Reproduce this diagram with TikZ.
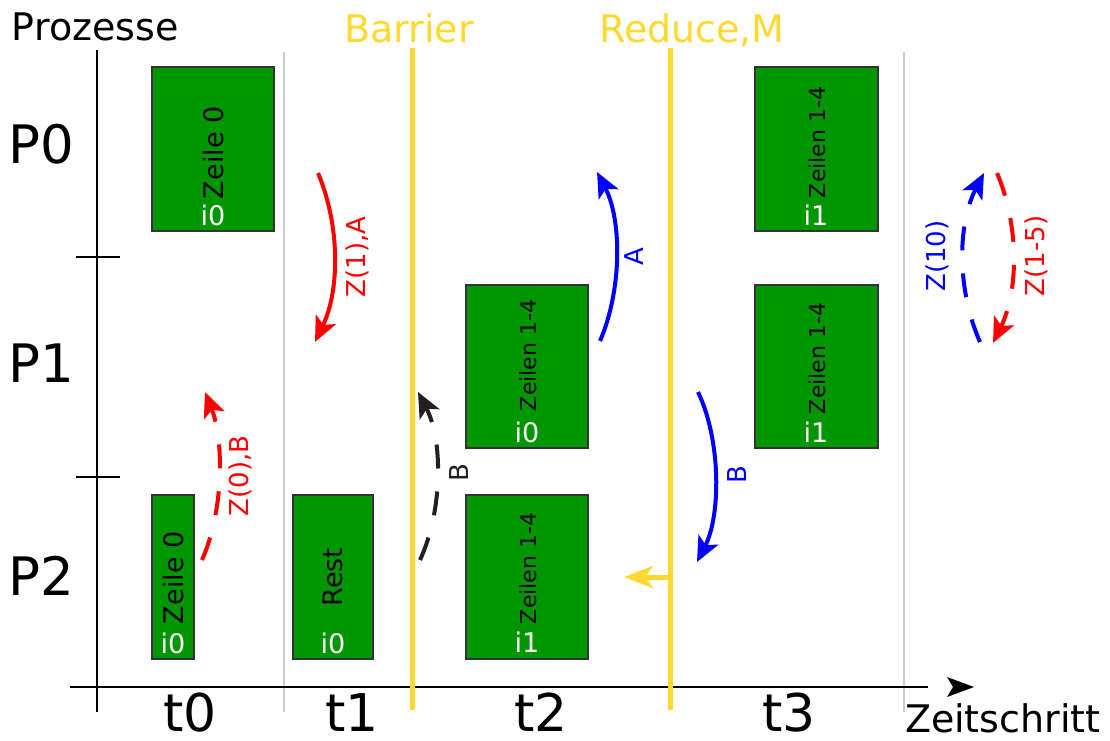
\documentclass[tikz,border=0pt]{standalone}
\usepackage{fontspec}
\setmainfont{DejaVu Sans}
\usetikzlibrary{arrows.meta}
\definecolor{boxgreen}{RGB}{0,150,0}
\definecolor{boxline}{RGB}{51,51,51}
\definecolor{syncyellow}{RGB}{255,217,47}
\definecolor{sepgray}{RGB}{204,204,204}
\definecolor{darkarrow}{RGB}{35,31,32}
\newcommand{\fsz}[1]{\fontsize{#1}{#1}\selectfont}

\begin{document}
\begin{tikzpicture}[x=1pt,y=-1pt,
  every node/.style={inner sep=0pt,outer sep=0pt},
  workbox/.style={draw=boxline,fill=boxgreen,line width=2pt,anchor=north west},
  rowlabel/.style={font=\fsz{27},rotate=90,anchor=west},
  smallrowlabel/.style={font=\fsz{22},rotate=90,anchor=west},
  iterlabel/.style={font=\fsz{27},text=white,anchor=base},
  arclabel/.style={font=\fsz{26},rotate=90},
  bigtip/.style={-{Stealth[length=25pt,width=22pt,inset=6pt]}},
  msgsolid/.style={line width=4pt,bigtip},
  msgdashed/.style={line width=4pt,dash pattern=on 24pt off 23pt,bigtip},
  syncline/.style={syncyellow,line width=5pt},
  sepline/.style={sepgray,line width=2pt},
  axisline/.style={black,line width=2.5pt},
  headline/.style={font=\fsz{38}},
  bignum/.style={font=\fsz{53},anchor=base},
  stepnum/.style={font=\fsz{52},anchor=base}]

\useasboundingbox (0,0) rectangle (1110,740);

% separators between time steps
\draw[sepline] (284,52) -- (284,712);
\draw[sepline] (904,52) -- (904,712);

% axes
\coordinate (yaxTop) at (97,50);
\coordinate (yaxBot) at (97,712);
\coordinate (xaxL) at (70,687);
\coordinate (xaxR) at (928,687);
\draw[axisline] (yaxTop) -- (yaxBot);
\draw[axisline] (xaxL) -- (xaxR);
\fill[black] (947,677) -- (974,687) -- (947,697) -- (953,687) -- cycle;
\coordinate (tickAL) at (76,257);
\coordinate (tickAR) at (120,257);
\coordinate (tickBL) at (76,477);
\coordinate (tickBR) at (120,477);
\draw[axisline] (tickAL) -- (tickAR);
\draw[axisline] (tickBL) -- (tickBR);

% axis titles
\node[headline,anchor=base west] (prozesse) at (12,40) {Prozesse};
\node[headline,anchor=base west] (zeitschritt) at (905,732) {Zeitschritt};
\node[bignum,anchor=base west] (p0) at (9,163) {P0};
\node[bignum,anchor=base west] (p1) at (9,382) {P1};
\node[bignum,anchor=base west] (p2) at (9,595) {P2};
\node[stepnum] (t0) at (190,731) {t0};
\node[stepnum] (t1) at (352,731) {t1};
\node[stepnum] (t2) at (541,731) {t2};
\node[stepnum] (t3) at (789,731) {t3};

% synchronisation points
\coordinate (barTop) at (412,48);
\coordinate (barBot) at (412,710);
\coordinate (redTop) at (670,48);
\coordinate (redBot) at (670,710);
\draw[syncline] (barTop) -- (barBot);
\draw[syncline] (redTop) -- (redBot);
\node[headline,text=syncyellow,anchor=base] (barrier) at (409,42) {Barrier};
\node[headline,text=syncyellow,anchor=base] (reduce) at (692,42) {Reduce,M};
\coordinate (redOut) at (670,577);
\coordinate (redIn) at (624,577);
\draw[syncyellow,line width=5pt,-{Stealth[length=29pt,width=22pt,inset=8pt]}] (redOut) -- (redIn);

% work packages
\node[workbox,minimum width=122pt,minimum height=164pt] (b1) at (152,67) {};
\node[workbox,minimum width=42pt,minimum height=164pt] (b2) at (152,495) {};
\node[workbox,minimum width=80pt,minimum height=164pt] (b3) at (293,495) {};
\node[workbox,minimum width=122pt,minimum height=163pt] (b4) at (466,285) {};
\node[workbox,minimum width=122pt,minimum height=164pt] (b5) at (466,495) {};
\node[workbox,minimum width=123pt,minimum height=164pt] (b6) at (755,67) {};
\node[workbox,minimum width=123pt,minimum height=163pt] (b7) at (755,285) {};

\node[rowlabel] (b1t) at (213,199) {Zeile 0};
\node[iterlabel] (b1i) at (213,225) {i0};
\node[rowlabel] (b2t) at (173,624) {Zeile 0};
\node[iterlabel] (b2i) at (173,653) {i0};
\node[font=\fsz{27},rotate=90] (b3t) at (333,577) {Rest};
\node[iterlabel] (b3i) at (333,653) {i0};
\node[smallrowlabel] (b4t) at (528,411) {Zeilen 1-4};
\node[iterlabel] (b4i) at (527,442) {i0};
\node[smallrowlabel] (b5t) at (528,624) {Zeilen 1-4};
\node[iterlabel] (b5i) at (527,652) {i1};
\node[smallrowlabel] (b6t) at (817,198) {Zeilen 1-4};
\node[iterlabel] (b6i) at (816,225) {i1};
\node[smallrowlabel] (b7t) at (817,414) {Zeilen 1-4};
\node[iterlabel] (b7i) at (816,442) {i1};

% messages between processes
\coordinate (m1s) at (318,173);
\coordinate (m1e) at (315,342);
\draw[red,msgsolid] (m1s) .. controls (340,225) and (340,290) .. (m1e);
\node[arclabel,text=red] (m1l) at (357,257) {Z(1),A};

\coordinate (m2s) at (202,560);
\coordinate (m2e) at (205,392);
\draw[red,msgdashed] (m2s) .. controls (224,510) and (224,440) .. (m2e);
\node[arclabel,text=red] (m2l) at (240,476) {Z(0),B};

\coordinate (m3s) at (420,560);
\coordinate (m3e) at (418,392);
\draw[darkarrow,msgdashed] (m3s) .. controls (443,510) and (443,440) .. (m3e);
\node[arclabel,text=darkarrow] (m3l) at (459,473) {B};

\coordinate (m4s) at (600,341);
\coordinate (m4e) at (597,172);
\draw[blue,msgsolid] (m4s) .. controls (622,290) and (622,220) .. (m4e);
\node[arclabel,text=blue] (m4l) at (634,257) {A};

\coordinate (m5s) at (698,392);
\coordinate (m5e) at (697,562);
\draw[blue,msgsolid] (m5s) .. controls (721,440) and (721,515) .. (m5e);
\node[arclabel,text=blue] (m5l) at (737,475) {B};

\coordinate (m6s) at (980,342);
\coordinate (m6e) at (984,173);
\draw[blue,msgdashed] (m6s) .. controls (957,290) and (957,225) .. (m6e);
\node[arclabel,text=blue] (m6l) at (937,256) {Z(10)};

\coordinate (m7s) at (997,173);
\coordinate (m7e) at (993,343);
\draw[red,msgdashed] (m7s) .. controls (1019,225) and (1019,290) .. (m7e);
\node[arclabel,text=red] (m7l) at (1036,256) {Z(1-5)};

\end{tikzpicture}
\end{document}
